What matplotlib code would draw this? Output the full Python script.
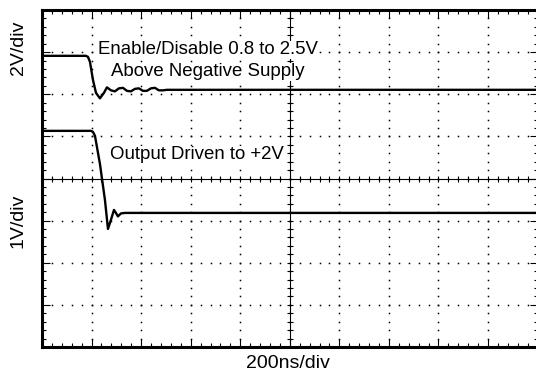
import matplotlib
matplotlib.use('Agg')
import matplotlib.pyplot as plt
import numpy as np

# screen is 10 x 8 divisions, traces given in divisions
n_xdiv = 10
n_ydiv = 8

# upper trace: enable/disable pin (2V/div)
en_t = [0, 0.887, 0.927, 0.968, 1.028, 1.089, 1.169, 1.25, 1.31, 1.391, 1.472,
        1.552, 1.633, 1.714, 1.794, 1.875, 1.956, 2.036, 2.117, 2.198, 2.278,
        2.359, 2.44, 2.52, 10]
en_v = [6.912, 6.912, 6.888, 6.77, 6.342, 6.033, 5.903, 6.033, 6.164, 6.093, 6.069,
        6.140, 6.152, 6.081, 6.069, 6.128, 6.140, 6.081, 6.081, 6.140, 6.152,
        6.093, 6.093, 6.105, 6.105]

# lower trace: amplifier output (1V/div)
out_t = [0, 0.988, 1.028, 1.069, 1.169, 1.270, 1.331, 1.391, 1.452, 1.492, 1.532,
         1.593, 1.673, 10]
out_v = [5.131, 5.131, 5.107, 5.012, 4.347, 3.492, 2.803, 3.017, 3.254, 3.183, 3.100,
         3.171, 3.183, 3.183]

plt.rcParams['font.family'] = ['Liberation Sans', 'DejaVu Sans']
fs = 13.4
fs_lab = 14

fig = plt.figure(figsize=(5.36, 3.77), dpi=100)
ax = fig.add_axes([42/536, 30/377, 495.6/536, 337/377])
ax.set_xlim(0, n_xdiv)
ax.set_ylim(0, n_ydiv)

# dotted graticule
for i in range(1, n_xdiv):
    yy = np.arange(0, n_ydiv + 0.01, 0.2)
    ax.plot(np.full(len(yy), i), yy, ls='none', marker='s', ms=1.1, mew=0, color='k', zorder=1)
for j in range(1, n_ydiv):
    xx = np.arange(0, n_xdiv + 0.01, 0.2)
    ax.plot(xx, np.full(len(xx), j), ls='none', marker='s', ms=1.1, mew=0, color='k', zorder=1)

# centre cross with small ticks
ax.axhline(n_ydiv/2, color='k', lw=0.8, zorder=1)
ax.axvline(n_xdiv/2, color='k', lw=0.8, zorder=1)
xx = np.arange(0, n_xdiv + 0.01, 0.2)
ax.plot(xx, np.full(len(xx), n_ydiv/2), ls='none', marker='|', ms=5, mew=0.8, color='k', zorder=1)
yy = np.arange(0, n_ydiv + 0.01, 0.2)
ax.plot(np.full(len(yy), n_xdiv/2), yy, ls='none', marker='_', ms=5, mew=0.8, color='k', zorder=1)

ax.plot(en_t, en_v, color='k', lw=1.7, zorder=3)
ax.plot(out_t, out_v, color='k', lw=1.7, zorder=3)

ax.text((208 - 42)/49.56, (347 - 50)/42.1, 'Enable/Disable 0.8 to 2.5V', fontsize=fs,
        ha='center', va='center', zorder=2, bbox=dict(fc='white', ec='none', pad=0.5))
ax.text((208 - 42)/49.56, (347 - 72)/42.1, 'Above Negative Supply', fontsize=fs,
        ha='center', va='center', zorder=2, bbox=dict(fc='white', ec='none', pad=0.5))
ax.text((110 - 42)/49.56, (347 - 155)/42.1, 'Output Driven to +2V', fontsize=fs,
        ha='left', va='center', zorder=2, bbox=dict(fc='white', ec='none', pad=0.5))

# border ticks
ax.set_xticks(np.arange(0, n_xdiv + 1, 1))
ax.set_yticks(np.arange(0, n_ydiv + 1, 1))
ax.set_xticks(np.arange(0, n_xdiv + 0.01, 0.2), minor=True)
ax.set_yticks(np.arange(0, n_ydiv + 0.01, 0.2), minor=True)
ax.tick_params(which='both', direction='in', top=True, right=True,
               labelbottom=False, labelleft=False, width=0.8, color='k')
ax.tick_params(which='major', length=5.5)
ax.tick_params(which='minor', length=2.8)
for s in ax.spines.values():
    s.set_linewidth(2.2)

fig.text(288/536, 1 - 363/377, '200ns/div', fontsize=fs_lab, ha='center', va='center')
fig.text(18/536, 1 - 48/377, '2V/div', fontsize=fs_lab, ha='center', va='center', rotation=90)
fig.text(18/536, 1 - 221/377, '1V/div', fontsize=fs_lab, ha='center', va='center', rotation=90)

plt.savefig('out.png', dpi=100)
